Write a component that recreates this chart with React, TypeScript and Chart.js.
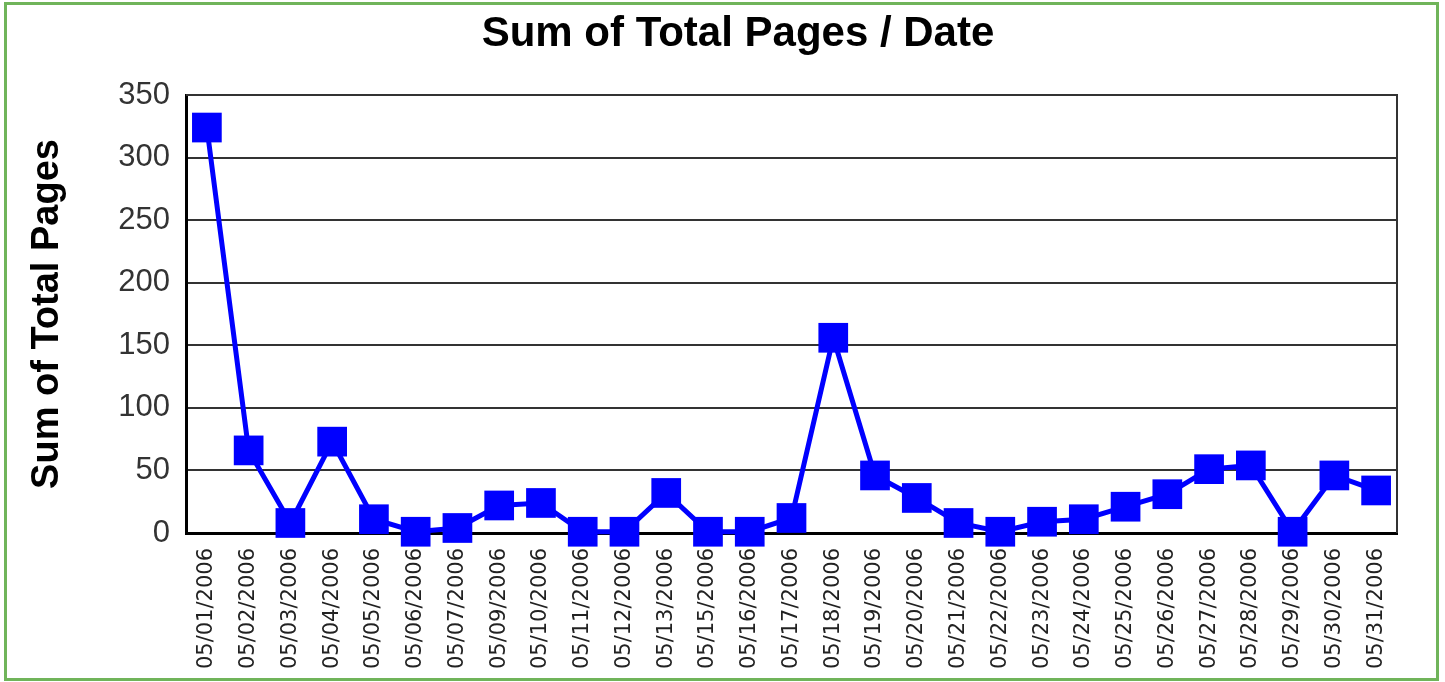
import React, { useEffect, useRef } from "react";
import { Chart, registerables } from "chart.js";

Chart.register(...registerables);

const chartTitle = "Sum of Total Pages / Date";
const yAxisTitle = "Sum of Total Pages";

const dates = [
  "05/01/2006", "05/02/2006", "05/03/2006", "05/04/2006", "05/05/2006",
  "05/06/2006", "05/07/2006", "05/09/2006", "05/10/2006", "05/11/2006",
  "05/12/2006", "05/13/2006", "05/15/2006", "05/16/2006", "05/17/2006",
  "05/18/2006", "05/19/2006", "05/20/2006", "05/21/2006", "05/22/2006",
  "05/23/2006", "05/24/2006", "05/25/2006", "05/26/2006", "05/27/2006",
  "05/28/2006", "05/29/2006", "05/30/2006", "05/31/2006",
];

const totalPages = [
  324, 66, 8, 73, 11,
  1, 4, 22, 24, 1,
  1, 32, 1, 1, 12,
  156, 46, 28, 8, 1,
  9, 11, 21, 31, 51,
  54, 1, 46, 34,
];

const yMin = 0;
const yMax = 350;
const yStep = 50;

const framePlugin = {
  id: "frame",
  beforeDraw(chart: any) {
    const { ctx, width, height } = chart;
    ctx.save();
    ctx.fillStyle = "#ffffff";
    ctx.fillRect(0, 0, width, height);
    ctx.strokeStyle = "rgb(112,180,90)";
    ctx.lineWidth = 3;
    ctx.strokeRect(5.5, 3.5, 1432, 676);
    ctx.restore();
  },
  beforeDatasetsDraw(chart: any) {
    const { ctx, chartArea } = chart;
    ctx.save();
    ctx.strokeStyle = "#333333";
    ctx.lineWidth = 2;
    ctx.beginPath();
    ctx.moveTo(chartArea.left, chartArea.top);
    ctx.lineTo(chartArea.right, chartArea.top);
    ctx.lineTo(chartArea.right, chartArea.bottom);
    ctx.stroke();
    ctx.restore();
  },
  afterDraw(chart: any) {
    const { ctx } = chart;
    ctx.save();
    ctx.fillStyle = "#000000";
    ctx.font = "bold 42px 'Liberation Sans', Arial, sans-serif";
    ctx.textAlign = "center";
    ctx.textBaseline = "middle";
    ctx.fillText(chartTitle, 738, 34);
    ctx.restore();
  },
};

export default function App() {
  const canvasRef = useRef<HTMLCanvasElement | null>(null);

  useEffect(() => {
    if (!canvasRef.current) return;
    const chart = new Chart(canvasRef.current, {
      type: "line",
      data: {
        labels: dates,
        datasets: [
          {
            label: yAxisTitle,
            data: totalPages,
            borderColor: "#0000ff",
            backgroundColor: "#0000ff",
            borderWidth: 5,
            tension: 0,
            pointStyle: "rect",
            pointRadius: 21,
            pointHoverRadius: 21,
            pointBorderWidth: 0,
            pointBackgroundColor: "#0000ff",
            clip: false as any,
          },
        ],
      },
      options: {
        responsive: false,
        animation: false,
        devicePixelRatio: 1,
        layout: { padding: { top: 95, right: 48, left: 0, bottom: 0 } },
        plugins: {
          legend: { display: false },
          title: { display: false },
          tooltip: { enabled: false },
        },
        scales: {
          x: {
            offset: true,
            grid: { display: false, drawTicks: false },
            border: { display: true, color: "#000000", width: 3 },
            ticks: {
              autoSkip: false,
              minRotation: 90,
              maxRotation: 90,
              padding: 15,
              color: "#222222",
              font: { family: "'DejaVu Sans', sans-serif", size: 21 },
            },
            afterFit: (scale: any) => {
              scale.height = 149;
            },
          },
          y: {
            min: yMin,
            max: yMax,
            grid: { color: "#333333", lineWidth: 2, drawTicks: false },
            border: { display: true, color: "#000000", width: 3 },
            ticks: {
              stepSize: yStep,
              padding: 16,
              color: "#333333",
              font: { family: "'Liberation Sans', Arial, sans-serif", size: 31 },
            },
            title: {
              display: true,
              text: yAxisTitle,
              color: "#000000",
              font: { family: "'Liberation Sans', Arial, sans-serif", size: 38, weight: "bold" },
              padding: { top: 25, bottom: 0 },
            },
            afterFit: (scale: any) => {
              scale.width = 186;
            },
          },
        },
      },
      plugins: [framePlugin],
    });
    return () => chart.destroy();
  }, []);

  return (
    <div style={{ position: "fixed", left: 0, top: 0, width: 1445, height: 682, background: "#fff" }}>
      <canvas ref={canvasRef} width={1445} height={682} style={{ display: "block" }} />
    </div>
  );
}
